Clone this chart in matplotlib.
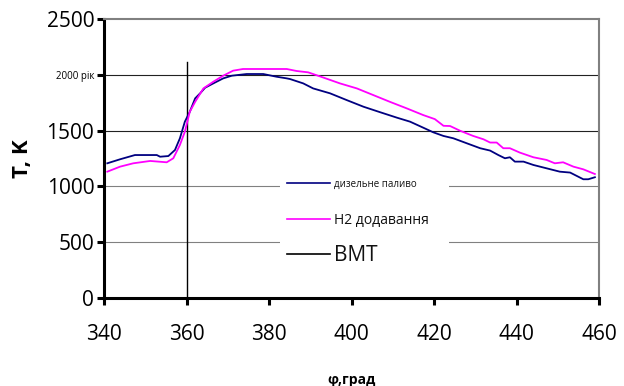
import numpy as np
import matplotlib.pyplot as plt
import matplotlib.patches as mpatches

plt.rcParams['font.family'] = ['Open Sans', 'DejaVu Sans']

# crank angle, deg / temperature, K
phi_d = [340.8, 343.9, 347.5, 352.8, 353.6, 355.6, 357.2, 358.4, 359.6, 360.8,
         362.1, 363.3, 364.5, 366.5, 368.9, 371.0, 374.6, 378.6, 381.8, 384.3,
         385.1, 388.3, 390.7, 394.8, 398.8, 402.9, 407.0, 411.0, 414.2, 417.4,
         419.8, 422.3, 424.7, 427.9, 431.2, 433.6, 435.6, 437.2, 438.4, 439.6,
         441.7, 444.1, 447.3, 450.5, 453.0, 456.2, 457.4, 459.0]
t_diesel = [1207, 1243, 1281, 1281, 1266, 1272, 1326, 1431, 1580, 1669,
            1789, 1834, 1884, 1923, 1968, 1992, 2007, 2007, 1983, 1968,
            1962, 1923, 1878, 1834, 1774, 1714, 1664, 1616, 1580, 1526,
            1485, 1452, 1431, 1387, 1342, 1321, 1281, 1252, 1261, 1222,
            1222, 1192, 1162, 1132, 1124, 1064, 1064, 1082]

phi_h = [340.8, 343.9, 347.1, 351.2, 355.2, 356.8, 358.4, 359.6, 360.8, 362.1,
         364.1, 366.5, 368.9, 371.3, 373.7, 384.3, 386.7, 389.5, 393.2, 397.2,
         401.3, 405.3, 409.3, 413.4, 417.4, 420.2, 422.3, 423.9, 426.3, 429.5,
         432.0, 433.6, 435.2, 436.8, 438.4, 440.8, 444.1, 447.3, 449.3, 451.3,
         453.8, 456.2, 459.0]
t_h2 = [1132, 1177, 1207, 1228, 1216, 1252, 1371, 1490, 1669, 1758,
        1878, 1938, 1992, 2037, 2052, 2052, 2034, 2022, 1975, 1923,
        1878, 1818, 1758, 1699, 1639, 1603, 1543, 1541, 1499, 1452,
        1422, 1393, 1393, 1342, 1342, 1303, 1261, 1237, 1207, 1216,
        1177, 1153, 1111]

vmt_x = [360, 360]
vmt_y = [0, 2115]

x_ticks = [340, 360, 380, 400, 420, 440, 460]
y_ticks = [0, 500, 1000, 1500, 2000, 2500]
y_labels = ['0', '500', '1000', '1500', '2000 рік', '2500']

series_labels = ['дизельне паливо', 'H2 додавання', 'ВМТ']
series_colors = ['#000080', '#FF00FF', 'black']

fig = plt.figure(figsize=(6.24, 3.86), dpi=100)
ax = fig.add_axes([104 / 624, 1 - 298 / 386, 495 / 624, 279 / 386])

# grid lines
for v in [500, 1000]:
    ax.axhline(v, color='#808080', lw=0.8, zorder=1)
for v in [1500, 2000]:
    ax.axhline(v, color='#222222', lw=0.8, zorder=1)

ax.plot(phi_d, t_diesel, color=series_colors[0], lw=1.3, zorder=3)
ax.plot(phi_h, t_h2, color=series_colors[1], lw=1.3, zorder=3)
ax.plot(vmt_x, vmt_y, color=series_colors[2], lw=1.0, zorder=2)

ax.set_xlim(340, 460)
ax.set_ylim(0, 2500)
ax.set_xticks(x_ticks)
ax.set_yticks(y_ticks)
ax.set_xticklabels([str(t) for t in x_ticks], fontsize=15)
ax.set_yticklabels(y_labels, fontsize=15)
ax.get_yticklabels()[4].set_fontsize(7)

for s in ['left', 'bottom']:
    ax.spines[s].set_linewidth(2.2)
    ax.spines[s].set_color('black')
for s in ['top', 'right']:
    ax.spines[s].set_linewidth(1.5)
    ax.spines[s].set_color('#808080')
ax.tick_params(direction='out', length=5, width=2.2, pad=2)
ax.tick_params(axis='x', pad=14)

ax.set_ylabel('T, K', fontsize=16, fontweight='bold', labelpad=10)
ax.set_xlabel('φ,град', fontsize=10, fontweight='bold', labelpad=20)

# legend, drawn by hand (entries have different font sizes)
ax.add_patch(mpatches.Rectangle((0.356, 0.09), 0.34, 0.39, transform=ax.transAxes,
                                facecolor='white', edgecolor='none', zorder=1.5))
leg_y = [0.412, 0.283, 0.158]
leg_sizes = [7, 10, 15]
for lab, col, yy, sz in zip(series_labels, series_colors, leg_y, leg_sizes):
    ax.plot([0.37, 0.457], [yy, yy], color=col, lw=1.2, transform=ax.transAxes, zorder=2)
    ax.text(0.465, yy - 0.005, lab, fontsize=sz, color='#111111', va='center',
            transform=ax.transAxes, zorder=2)

fig.savefig('out.png', dpi=100)
